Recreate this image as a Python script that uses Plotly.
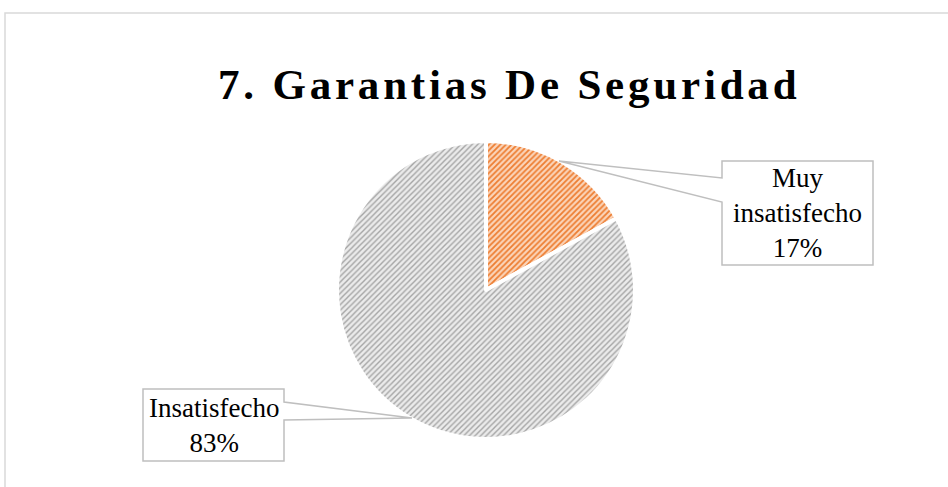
import plotly.graph_objects as go

# ---- data ----
categories = ["Muy insatisfecho", "Insatisfecho"]
values = [17, 83]
title_text = "7. Garantias De Seguridad"

stripe_colors = ["#ED7D31", "#A5A5A5"]
bg_colors = ["#FBD5BA", "#EBEBEB"]

W, H = 948, 487
def X(px):
    return px / W
def Y(py):
    return 1 - py / H

SERIF = "Liberation Serif"

fig = go.Figure()
fig.add_trace(go.Pie(
    labels=categories,
    values=values,
    sort=False,
    direction="clockwise",
    rotation=0,
    textinfo="none",
    hoverinfo="label+percent",
    showlegend=False,
    domain=dict(x=[X(337), X(635)], y=[Y(439), Y(141)]),
    marker=dict(
        colors=bg_colors,
        line=dict(color="white", width=4),
        pattern=dict(shape="/", fgcolor=stripe_colors, bgcolor=bg_colors,
                     size=4, solidity=[0.45, 0.35], fillmode="replace"),
    ),
))

total = sum(values)
pcts = [round(v / total * 100) for v in values]
label_texts = [f"{c.replace(' ', '<br>', 1) if len(c) > 13 else c}<br>{p}%"
               for c, p in zip(categories, pcts)]

# callout geometry (pixels): box (x0,y0,x1,y1), notch side, notch y range, anchor on pie
callouts = [
    dict(box=(722, 161, 873, 265), side="left", ny=(178, 202), tip=(559, 161)),
    dict(box=(143, 389, 284, 461), side="right", ny=(402, 420), tip=(412, 418)),
]

shapes = []
# chart frame (clipped at right/bottom)
shapes.append(dict(type="path", xref="paper", yref="paper",
                   path=f"M {X(5)},{Y(500)} L {X(5)},{Y(13)} L {X(960)},{Y(13)}",
                   line=dict(color="#D9D9D9", width=1.5), layer="below"))

annotations = []
for co, txt in zip(callouts, label_texts):
    x0, y0, x1, y1 = co["box"]
    na, nb = co["ny"]
    tx, ty = co["tip"]
    if co["side"] == "left":
        pts = [(x0, y0), (x1, y0), (x1, y1), (x0, y1), (x0, nb), (tx, ty), (x0, na)]
    else:
        pts = [(x0, y0), (x1, y0), (x1, na), (tx, ty), (x1, nb), (x1, y1), (x0, y1)]
    path = "M " + " L ".join(f"{X(a)},{Y(b)}" for a, b in pts) + " Z"
    shapes.append(dict(type="path", xref="paper", yref="paper", path=path,
                       fillcolor="white", line=dict(color="#BFBFBF", width=1.5),
                       layer="above"))
    annotations.append(dict(
        x=X((x0 + x1) / 2), y=Y((y0 + y1) / 2), xref="paper", yref="paper",
        text=txt, showarrow=False, xanchor="center", yanchor="middle",
        align="center", font=dict(family=SERIF, size=27, color="#000000"),
    ))

annotations.append(dict(
    x=X(509), y=Y(84), xref="paper", yref="paper",
    text=f'<span style="letter-spacing:3.8px">{title_text}</span>',
    showarrow=False, xanchor="center", yanchor="middle",
    font=dict(family=SERIF, size=43, color="#000000", weight="bold"),
))

fig.update_layout(
    width=W, height=H,
    margin=dict(l=0, r=0, t=0, b=0),
    paper_bgcolor="white", plot_bgcolor="white",
    shapes=shapes, annotations=annotations,
)

fig.write_html("out.html", config={"displayModeBar": False},
               post_script="document.body.style.margin='0px';")
